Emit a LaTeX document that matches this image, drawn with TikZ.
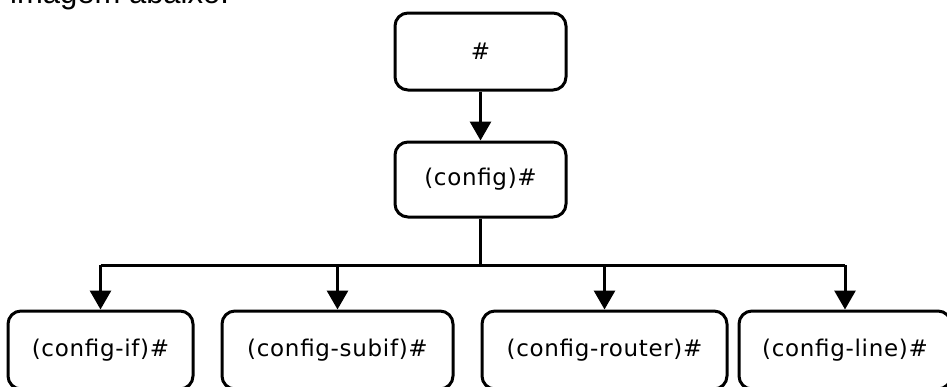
\documentclass[tikz,border=0pt]{standalone}
\usepackage{fontspec}
\usetikzlibrary{arrows.meta}
\newfontfamily\boxfont[LetterSpace=3]{DejaVu Sans}
\newfontfamily\headfont{Liberation Sans}
\begin{document}
\begin{tikzpicture}[x=1pt,y=-1pt,
  modebox/.style={draw, line width=3pt, rounded corners=13pt, inner sep=0pt,
    font=\boxfont\fontsize{23}{27}\selectfont},
  link/.style={line width=3pt},
  arrowlink/.style={line width=3pt, -{Triangle[width=21pt,length=19pt]}}]
  \useasboundingbox (0,0) rectangle (947,386);
  \clip (0,0) rectangle (947,386);

  % heading line from the surrounding text
  \node[anchor=base west, inner sep=0pt, font=\headfont\fontsize{31}{36}\selectfont]
    (head) at (10,3) {imagem abaixo:};

  % command modes
  \node[modebox, minimum width=171pt, minimum height=77pt] (priv) at (480.5,51.5) {\#};
  \node[modebox, minimum width=171pt, minimum height=75pt] (cfg) at (480.5,179.5) {(config)\#};
  \node[modebox, minimum width=185pt, minimum height=78pt] (cif) at (100.5,350) {(config-if)\#};
  \node[modebox, minimum width=231pt, minimum height=78pt] (csub) at (337.5,350) {(config-subif)\#};
  \node[modebox, minimum width=245pt, minimum height=78pt] (crt) at (604.5,350) {(config-router)\#};
  \node[modebox, minimum width=212pt, minimum height=78pt] (cline) at (845,350) {(config-line)\#};

  % connectors
  \coordinate (bus) at (0,265);
  \draw[arrowlink] (priv) -- (cfg);
  \draw[link] (cfg.south) -- (cfg.south |- bus);
  \draw[link] (cif.north |- bus) -- (cline.north |- bus);
  \draw[arrowlink] (cif.north |- bus) -- (cif.north);
  \draw[arrowlink] (csub.north |- bus) -- (csub.north);
  \draw[arrowlink] (crt.north |- bus) -- (crt.north);
  \draw[arrowlink] (cline.north |- bus) -- (cline.north);
\end{tikzpicture}
\end{document}
